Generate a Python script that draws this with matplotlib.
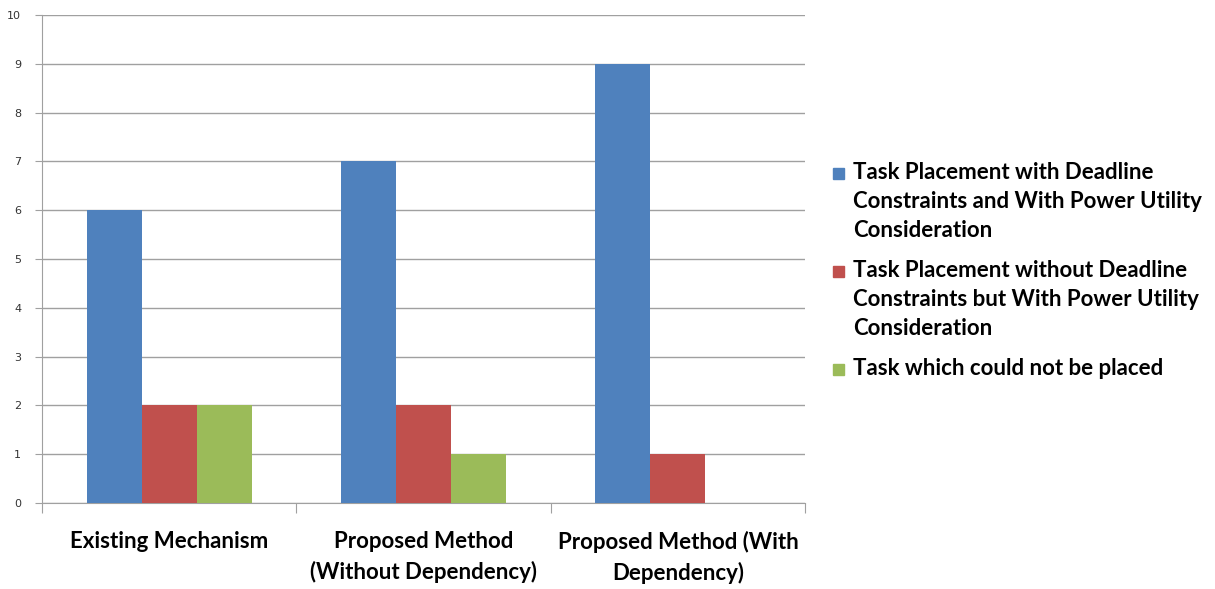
import numpy as np
import matplotlib.pyplot as plt
from matplotlib.patches import Rectangle

categories = ["Existing Mechanism",
              "Proposed Method\n(Without Dependency)",
              "Proposed Method (With\nDependency)"]
series_names = ["Task Placement with Deadline\nConstraints and With Power Utility\nConsideration",
                "Task Placement without Deadline\nConstraints but With Power Utility\nConsideration",
                "Task which could not be placed"]
with_deadline = [6, 7, 9]
without_deadline = [2, 2, 1]
not_placed = [2, 1, 0]
colors = ["#4F81BD", "#C0504D", "#9BBB59"]

W, H = 1215, 589
fig = plt.figure(figsize=(W / 100, H / 100), dpi=100)
ax = fig.add_axes([0.0346, 0.146, 0.628, 0.8285])

x = np.arange(len(categories))
w = 0.216
for i, vals in enumerate([with_deadline, without_deadline, not_placed]):
    ax.bar(x + (i - 1) * w, vals, width=w, color=colors[i], zorder=3)

ax.set_xlim(-0.5, 2.5)
ax.set_ylim(0, 10)
ax.set_yticks(range(0, 11))
ax.grid(axis="y", color="#A0A0A0", linewidth=1, zorder=0)
for s in ["top", "right"]:
    ax.spines[s].set_visible(False)
for s in ["left", "bottom"]:
    ax.spines[s].set_color("#A0A0A0")
ax.tick_params(axis="y", colors="#A0A0A0", labelcolor="#333333", labelsize=8, length=5, pad=10)

# category ticks at boundaries, labels in between
ax.set_xticks([-0.5, 0.5, 1.5, 2.5])
ax.set_xticklabels([])
ax.tick_params(axis="x", colors="#A0A0A0", length=7)
ax.set_xticks(x, minor=True)
ax.set_xticklabels(categories, minor=True, fontfamily="Lato", fontweight="bold",
                   fontsize=16, linespacing=1.5)
ax.tick_params(axis="x", which="minor", length=0, pad=20, labelcolor="black")

# legend drawn by hand: square sits on the first line's baseline
first_baseline_px = [179, 277, 375]
line_step_px = 29
for name, c, by in zip(series_names, colors, first_baseline_px):
    fig.add_artist(Rectangle((833 / W, 1 - by / H), 11 / W, 11 / H, color=c,
                             transform=fig.transFigure))
    for k, line in enumerate(name.split("\n")):
        fig.text(853 / W, 1 - (by + k * line_step_px) / H, line, fontfamily="Lato",
                 fontweight="bold", fontsize=16, va="baseline", ha="left")

fig.savefig("out.png", dpi=100)
